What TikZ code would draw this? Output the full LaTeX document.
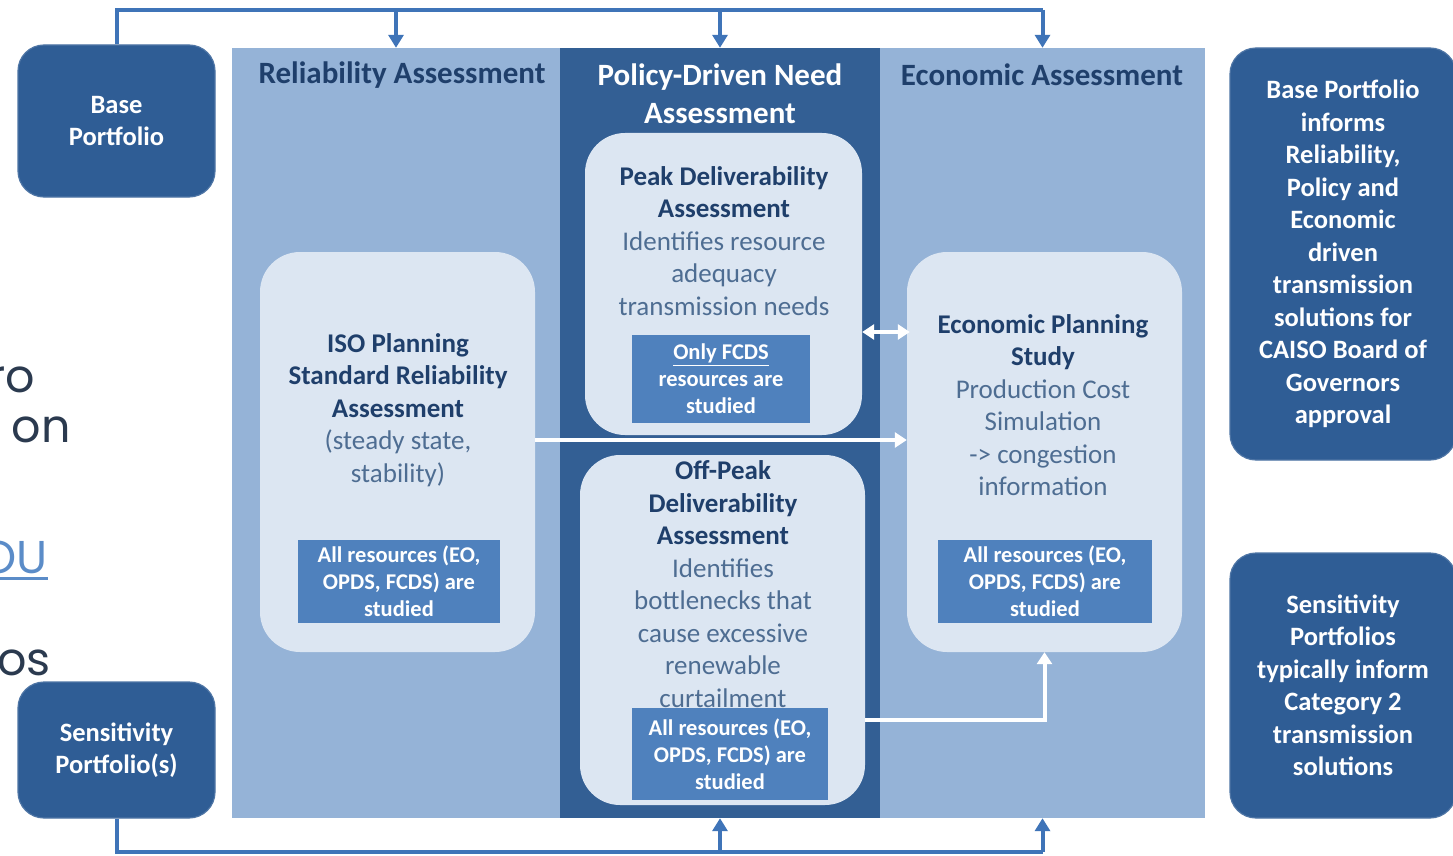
\documentclass[tikz,border=0pt]{standalone}
\usepackage{fontspec}
\setmainfont{Carlito}
\newfontfamily\gothic{Poppins}
\usetikzlibrary{arrows.meta}
\definecolor{darkbox}{HTML}{2F5D95}
\definecolor{colLight}{HTML}{95B3D7}
\definecolor{colDark}{HTML}{335F94}
\definecolor{innerfill}{HTML}{DCE6F2}
\definecolor{subfill}{HTML}{4F81BD}
\definecolor{navy}{HTML}{1F3F6B}
\definecolor{bodytxt}{HTML}{4E6D92}
\definecolor{linkblue}{HTML}{3F74B8}
\definecolor{fragtxt}{HTML}{2B3A4F}
\definecolor{fraglink}{HTML}{5B8CC8}
\tikzset{
  column/.style={fill=#1, draw=none, inner sep=0, minimum height=770},
  portbox/.style={fill=darkbox, draw=darkbox!85!white, line width=1.2, rounded corners=26, text=white, align=center, inner sep=0, font=\fontsize{26.5}{32.5}\selectfont\bfseries},
  innerbox/.style={fill=innerfill, draw=none, rounded corners=40, inner sep=0},
  subbox/.style={fill=subfill, draw=none, inner sep=0, text=white, align=center, font=\fontsize{22.5}{27}\selectfont\bfseries},
  boxtext/.style={align=center, inner sep=0, text=bodytxt, font=\fontsize{27}{32.5}\selectfont},
  heading/.style={align=center, inner sep=0, font=\fontsize{31}{37.5}\selectfont\bfseries},
  feedline/.style={draw=linkblue, line width=4},
  feedarrow/.style={draw=linkblue, line width=4, -{Triangle[width=15,length=13]}},
  whitearrow/.style={draw=white, line width=4, -{Triangle[width=15,length=12]}},
  whitedouble/.style={draw=white, line width=4, {Triangle[width=15,length=12]}-{Triangle[width=15,length=12]}},
  frag/.style={inner sep=0, anchor=base east, font=\gothic\fontsize{46}{50}\selectfont, text=fragtxt},
}
\newcommand{\bt}[1]{\textcolor{navy}{\textbf{#1}}}
\begin{document}
\begin{tikzpicture}[x=1pt,y=-1pt]
\useasboundingbox (0,0) rectangle (1453,856);
\fill[white] (0,0) rectangle (1453,856);

% columns
\node[column=colLight, minimum width=328] (relcol) at (396,433) {};
\node[column=colDark, minimum width=320] (polcol) at (720,433) {};
\node[column=colLight, minimum width=325] (ecocol) at (1042.5,433) {};

% headings
\node[heading, text=navy] (relhead) at (402,75) {Reliability Assessment};
\node[heading, text=white] (polhead) at (720,93.5) {Policy-Driven Need\\Assessment};
\node[heading, text=navy] (ecohead) at (1042,75) {Economic Assessment};

% inner boxes
\node[innerbox, minimum width=275, minimum height=400] (relbox) at (397.5,452) {};
\node[innerbox, minimum width=277, minimum height=302] (peakbox) at (723.5,284) {};
\node[innerbox, minimum width=285, minimum height=350] (offbox) at (722.5,630) {};
\node[innerbox, minimum width=275, minimum height=400] (ecobox) at (1044.5,452) {};

% box texts
\node[boxtext] (reltxt) at (398,410) {\bt{ISO Planning}\\\bt{Standard Reliability}\\\bt{Assessment}\\(steady state,\\stability)};
\node[boxtext] (peaktxt) at (724,241) {\bt{Peak Deliverability}\\\bt{Assessment}\\Identifies resource\\adequacy\\transmission needs};
\node[boxtext] (offtxt) at (723,584) {\bt{Off-Peak}\\\bt{Deliverability}\\\bt{Assessment}\\Identifies\\bottlenecks that\\cause excessive\\renewable\\curtailment};
\node[boxtext] (ecotxt) at (1043,405) {\bt{Economic Planning}\\\bt{Study}\\Production Cost\\Simulation\\-> congestion\\information};

% sub boxes
\node[subbox, minimum width=202, minimum height=83] (relsub) at (399,581.5) {All resources (EO,\\OPDS, FCDS) are\\studied};
\node[subbox, minimum width=178, minimum height=88] (peaksub) at (721,379) {\underline{Only FCDS}\\resources are\\studied};
\node[subbox, minimum width=196, minimum height=92] (offsub) at (730,754) {All resources (EO,\\OPDS, FCDS) are\\studied};
\node[subbox, minimum width=214, minimum height=83] (ecosub) at (1045,581.5) {All resources (EO,\\OPDS, FCDS) are\\studied};

% portfolio boxes
\node[portbox, minimum width=197, minimum height=152] (base) at (116.5,121) {Base\\Portfolio};
\node[portbox, minimum width=197, minimum height=136] (sens) at (116.5,750) {Sensitivity\\Portfolio(s)};
\node[portbox, minimum width=226, minimum height=412] (baseinf) at (1343,254) {Base Portfolio\\informs\\Reliability,\\Policy and\\Economic\\driven\\transmission\\solutions for\\CAISO Board of\\Governors\\approval};
\node[portbox, minimum width=226, minimum height=265] (sensinf) at (1343,685.5) {Sensitivity\\Portfolios\\typically inform\\Category 2\\transmission\\solutions};

% left cut-off slide text
\node[frag] (f1) at (35,392) {ro};
\node[frag] (f2) at (71,442) {on};
\node[frag, text=fraglink] (f3) at (48,573) {OU};
\node[frag] (f4) at (51,675) {os};
\draw[fraglink, line width=3] ([yshift=-5]f3.base west) -- ([yshift=-5]f3.base east);

% top feed lines
\coordinate (top) at (0,10);
\coordinate (bot) at (0,852);
\draw[feedline] (base.north) -- (base.north |- top) -- (ecocol.north |- top);
\draw[feedarrow] (relcol.north |- top) -- (relcol.north);
\draw[feedarrow] (polcol.north |- top) -- (polcol.north);
\draw[feedarrow] (ecocol.north |- top) -- (ecocol.north);

% bottom feed lines
\draw[feedline] (sens.south) -- (sens.south |- bot) -- (ecocol.south |- bot);
\draw[feedarrow] (polcol.south |- bot) -- (polcol.south);
\draw[feedarrow] (ecocol.south |- bot) -- (ecocol.south);

% white arrows
\coordinate (ya) at (0,440);
\coordinate (yb) at (0,332);
\coordinate (yc) at (0,720);
\draw[whitearrow] (relbox.east |- ya) -- (ecobox.west |- ya);
\draw[whitedouble] (peakbox.east |- yb) -- ([xshift=3]ecobox.west |- yb);
\draw[whitearrow] (offbox.east |- yc) -| (ecobox.south);
\end{tikzpicture}
\end{document}
